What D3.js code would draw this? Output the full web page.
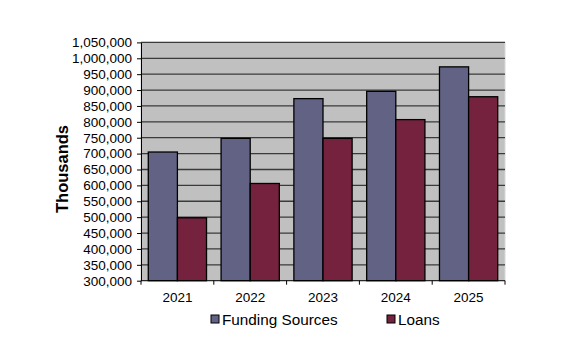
<!DOCTYPE html>
<html><head><meta charset="utf-8">
<script src="https://cdn.jsdelivr.net/npm/d3@7"></script>
<style>body{margin:0;background:#fff}svg{display:block}</style>
</head><body>
<svg id="c" width="573" height="356"></svg>
<script>
const categories = ["2021","2022","2023","2024","2025"];
const fundingSources = [705000, 748000, 873000, 896000, 973000];
const loans = [498000, 606000, 748000, 807000, 879000];
const seriesNames = ["Funding Sources","Loans"];
const yTicks = d3.range(300000, 1050001, 50000);

const svg = d3.select("#c");
const m = {l:141, r:505, t:42.4, b:280.7};
const x0 = d3.scaleBand().domain(categories).range([m.l, m.r]).paddingInner(0).paddingOuter(0);
const x1 = d3.scaleBand().domain(seriesNames).range([0, x0.bandwidth()]).paddingInner(0).paddingOuter(0.25);
const y = d3.scaleLinear().domain([300000, 1050000]).range([m.b, m.t]);
const colors = {"Funding Sources":"#626384","Loans":"#74223e"};
const font = "Liberation Sans, Arial, sans-serif";

svg.append("rect").attr("x", m.l).attr("y", m.t).attr("width", m.r-m.l).attr("height", m.b-m.t)
  .attr("fill", "#c0c0c0").attr("stroke", "#d8d8d8").attr("stroke-width", 1);

svg.append("g").selectAll("line").data(yTicks.slice(1)).join("line")
  .attr("x1", m.l).attr("x2", m.r).attr("y1", d=>y(d)).attr("y2", d=>y(d))
  .attr("stroke", "#3a3a3a").attr("stroke-width", 1.3);

const data = categories.map((c,i)=>({c, vals:[{k:"Funding Sources",v:fundingSources[i]},{k:"Loans",v:loans[i]}]}));
svg.append("g").selectAll("g").data(data).join("g")
  .attr("transform", d=>`translate(${x0(d.c)},0)`)
  .selectAll("rect").data(d=>d.vals).join("rect")
  .attr("x", d=>x1(d.k)).attr("width", x1.bandwidth())
  .attr("y", d=>y(d.v)).attr("height", d=>m.b - y(d.v))
  .attr("fill", d=>colors[d.k]).attr("stroke", "#000").attr("stroke-width", 1.3);

const yAxis = d3.axisLeft(y).tickValues(yTicks).tickSize(4).tickSizeOuter(0)
  .tickFormat(d3.format(","));
const gy = svg.append("g").attr("transform", `translate(${m.l},0)`).call(yAxis);
gy.selectAll("text").attr("font-family",font).attr("font-size","13.5px").attr("fill","#000").attr("x",-9);
gy.selectAll("line").attr("stroke","#000");
gy.select(".domain").attr("stroke","#000");

const gx = svg.append("g").attr("transform", `translate(0,${m.b})`);
gx.append("line").attr("x1", m.l).attr("x2", m.r).attr("y1",0).attr("y2",0).attr("stroke","#000");
gx.selectAll("line.t").data(d3.range(categories.length+1)).join("line").attr("class","t")
  .attr("x1", i=>m.l + i*x0.step()).attr("x2", i=>m.l + i*x0.step()).attr("y1",0).attr("y2",4).attr("stroke","#000");
gx.selectAll("text").data(categories).join("text")
  .attr("x", d=>x0(d)+x0.bandwidth()/2).attr("y", 21.5)
  .attr("text-anchor","middle").attr("font-family",font).attr("font-size","13.5px").text(d=>d);

svg.append("text").attr("transform","translate(68,169) rotate(-90)").attr("text-anchor","middle")
  .attr("font-family",font).attr("font-size","16.5px").attr("font-weight","bold").text("Thousands");

const legX = [211, 387];
const lg = svg.append("g").selectAll("g").data(seriesNames).join("g")
  .attr("transform",(d,i)=>`translate(${legX[i]},315)`);
lg.append("rect").attr("width",8).attr("height",8).attr("fill",d=>colors[d]).attr("stroke","#000").attr("stroke-width",1);
lg.append("text").attr("x",11).attr("y",10).attr("font-family",font).attr("font-size","15.3px").text(d=>d);
</script>
</body></html>
